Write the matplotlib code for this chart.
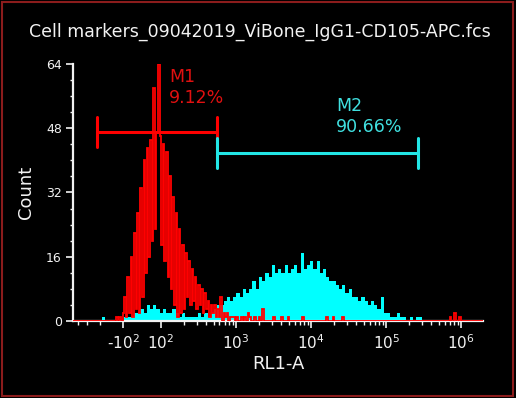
import numpy as np
import matplotlib
matplotlib.use("Agg")
import matplotlib.pyplot as plt
from matplotlib.patches import Rectangle

title = 'Cell markers_09042019_ViBone_IgG1-CD105-APC.fcs'
x_label = 'RL1-A'
y_label = 'Count'

x_lo, x_hi = -464, 1.96e6
x_ticks = [-1e2, 1e2, 1e3, 1e4, 1e5, 1e6]
x_tick_labels = ['-$10^{2}$', '$10^{2}$', '$10^{3}$', '$10^{4}$', '$10^{5}$', '$10^{6}$']
y_ticks = [0, 16, 32, 48, 64]

# M2 population, 128 display channels
cyan_counts = ([0] * 9 + [1] + [0] * 6
               + [1, 1, 1, 2, 2, 3, 2, 4, 3, 4, 3, 2, 3, 2, 2, 3, 2, 1, 2, 1,
                  1, 1, 1, 2, 1, 2, 1, 2]
               + [3, 4, 4, 5, 6, 5, 6, 7, 6, 8, 7, 8, 10, 8, 11, 10, 12, 11, 14, 12,
                  13, 12, 14, 12, 13, 14, 12, 17, 13, 14, 15, 13, 15, 12, 13, 11, 10, 10, 9, 8,
                  9, 7, 8, 6, 6, 5, 6, 5, 4, 5, 4, 3, 6, 2, 2, 1, 1, 2, 1, 1,
                  0, 1, 0, 1, 1]
               + [0] * 19)

# isotype / M1 population, 256 display channels
red_counts = ([0] * 27
              + [1, 0, 1, 0, 2, 6, 1, 11, 2, 16, 1, 22, 3, 27, 2, 33, 6, 40, 12, 43,
                 16, 45, 20, 58, 23, 47, 64, 46, 19, 44, 15, 42, 11, 36, 8, 31, 4, 27, 1, 23,
                 2, 19, 3, 17, 6, 15, 4, 13, 5, 11, 3, 9, 4, 8, 2, 7, 3, 5, 1, 4,
                 2, 4, 1, 3, 1, 6, 0, 2, 1, 2, 0, 1, 1]
              + [1, 0, 1, 0, 0, 1, 0, 1, 0, 2, 1, 0, 0, 1, 0, 0, 1, 0]
              + [3] + [0] * 6 + [1] + [0] * 4 + [1] + [0] * 3 + [1] + [0] * 8 + [1]
              + [0] * 14 + [1] + [0] * 3 + [1] + [0] * 5 + [1] + [0] * 66
              + [1, 0, 0, 2, 0, 0, 1] + [0] * 14)

m1_range = (-222, 558)
m1_level, m1_cap = 47.1, (43.3, 50.8)
m1_text = 'M1\n9.12%'
m2_range = (558, 2.67e5)
m2_level, m2_cap = 41.8, (38.1, 45.6)
m2_text = 'M2\n90.66%'

RED = '#ff0000'
CYAN = '#00ffff'
FG = '#f2f2f2'

fig = plt.figure(figsize=(5.16, 3.98), dpi=100, facecolor='black')
ax = fig.add_axes([0.1415, 0.1935, 0.795, 0.6457], facecolor='black')
ax.set_xscale('symlog', linthresh=100, linscale=0.228)
ax.set_xlim(x_lo, x_hi)
ax.set_ylim(0, 64)

# channels are evenly spaced on the display scale
tr = ax.xaxis.get_transform()
d_lo, d_hi = tr.transform(np.array([x_lo, x_hi]))
cyan_edges = tr.inverted().transform(np.linspace(d_lo, d_hi, len(cyan_counts) + 1))
red_edges = tr.inverted().transform(np.linspace(d_lo, d_hi, len(red_counts) + 1))

ax.stairs(cyan_counts, cyan_edges, fill=True, color=CYAN, lw=0, zorder=2)
ax.stairs(red_counts, red_edges, color=RED, lw=1.3, zorder=3)

# gate markers
ax.plot(m1_range, [m1_level] * 2, color=RED, lw=2.2, solid_capstyle='butt', zorder=4)
for xv in m1_range:
    ax.plot([xv, xv], m1_cap, color=RED, lw=2.2, solid_capstyle='round', zorder=4)
ax.plot(m2_range, [m2_level] * 2, color='#22e6e6', lw=2.2, solid_capstyle='butt', zorder=5)
for xv in m2_range:
    ax.plot([xv, xv], m2_cap, color='#22e6e6', lw=2.2, solid_capstyle='round', zorder=5)
ax.text(128, 63, m1_text, color='#e01010', fontsize=12.5, va='top', ha='left', linespacing=1.2)
ax.text(2.15e4, 55.8, m2_text, color='#40e0e0', fontsize=12.5, va='top', ha='left', linespacing=1.2)

for s in ['top', 'right']:
    ax.spines[s].set_visible(False)
for s in ['left', 'bottom']:
    ax.spines[s].set_color(FG)
    ax.spines[s].set_linewidth(1.6)

ax.set_xticks(x_ticks)
ax.set_xticklabels(x_tick_labels)
minor_x = [m * 10.0 ** e for e in range(2, 6) for m in range(2, 10)] + [-m * 100 for m in range(2, 5)]
ax.set_xticks(minor_x, minor=True)
ax.set_yticks(y_ticks)
ax.set_yticks(np.arange(0, 65, 4), minor=True)
ax.tick_params(axis='x', which='major', colors=FG, length=5, width=1.2, labelsize=11, pad=4)
ax.tick_params(axis='x', which='minor', colors=FG, length=3, width=1.0)
ax.tick_params(axis='y', which='major', colors=FG, length=5, width=1.2, labelsize=9, pad=3)
ax.tick_params(axis='y', which='minor', colors=FG, length=2.5, width=1.0)

ax.set_xlabel(x_label, color=FG, fontsize=13, labelpad=2)
ax.set_ylabel(y_label, color=FG, fontsize=13, labelpad=8)
fig.text(0.504, 0.907, title, color=FG, fontsize=12.5, ha='center', va='baseline')

fig.patches.append(Rectangle((0.004, 0.005), 0.991, 0.99, transform=fig.transFigure,
                             fill=False, edgecolor='#8b1c1c', lw=1.5))

fig.savefig('out.png', dpi=100, facecolor='black')
